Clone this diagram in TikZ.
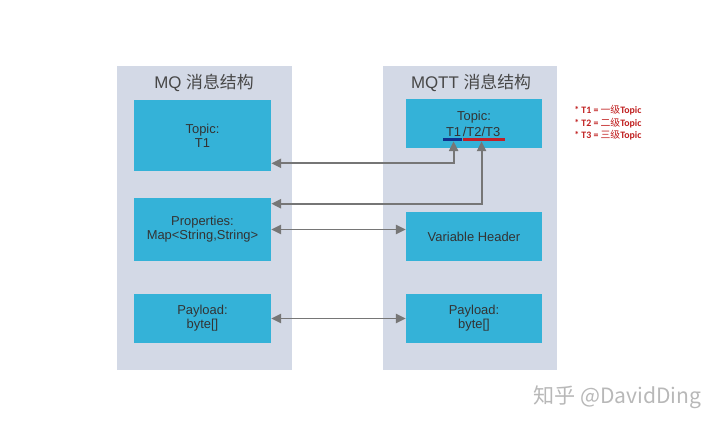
\documentclass[tikz,border=0pt]{standalone}
\usepackage{fontspec}
\setmainfont{Liberation Sans}
\newfontfamily\cjk{Noto Sans CJK SC}
\newfontfamily\notefont{Carlito}
\usepackage{tikz}
\usetikzlibrary{arrows.meta,positioning,calc}
\definecolor{panelbg}{RGB}{211,217,230}
\definecolor{boxfill}{RGB}{52,178,216}
\definecolor{txtdark}{RGB}{51,51,51}
\definecolor{arrgray}{RGB}{118,118,118}
\definecolor{notered}{RGB}{192,32,32}
\definecolor{ulblue}{RGB}{16,48,140}
\definecolor{ulred}{RGB}{192,32,40}

\begin{document}
\begin{tikzpicture}[x=0.025cm, y=-0.025cm, font=\fontsize{9.2}{9.8}\selectfont, text=txtdark, panel/.style={fill=panelbg, inner sep=0pt, minimum height=7.6cm}, box/.style={fill=boxfill, align=center, inner sep=0pt, minimum width=3.425cm, minimum height=1.225cm}, title/.style={font=\fontsize{12}{14}\selectfont, text=txtdark!90}, arr/.style={{Triangle[length=7pt,width=6.5pt]}-{Triangle[length=7pt,width=6.5pt]}, line width=1.4pt, draw=arrgray}]
\useasboundingbox (0,0) rectangle (720,429);
% the two columns
\node[panel, minimum width=4.375cm] (mqpanel) at (204.5,218) {};
\node[panel, minimum width=4.35cm] (mqttpanel) at (470,218) {};
\node[title] (mqtitle) at (204,83) {MQ {\cjk 消息结构}};
\node[title] (mqtttitle) at (471,83) {MQTT {\cjk 消息结构}};
% MQ side
\node[box, minimum height=1.775cm] (ltopic) at (202.5,135.5) {Topic:\\T1};
\node[box, minimum height=1.575cm] (lprop) at (202.5,229.5) {Properties:\\Map<String,String>};
\node[box] (lpay) at (202.5,318.5) {Payload:\\byte[]};
% MQTT side
\node[box, minimum width=3.4cm] (rtopic) at (474,123.5) {};
\node[inner sep=0pt] (rtopichd) at (474,117) {Topic:};
\node[inner xsep=0.4pt, inner ysep=0pt, anchor=base east] (tone) at (462,136) {T1};
\node[inner xsep=0.4pt, inner ysep=0pt, anchor=base west] (ttwo) at (tone.base east) {/T2/T3};
\draw[ulblue, line width=2pt] ([xshift=-1.5pt, yshift=-2.3pt]tone.base west) -- ([yshift=-2.3pt]tone.base east);
\draw[ulred, line width=2pt] ([xshift=1pt, yshift=-2.3pt]ttwo.base west) -- ([xshift=2.5pt, yshift=-2.3pt]ttwo.base east);
\node[box, minimum width=3.4cm] (rvar) at (474,236.5) {Variable Header};
\node[box, minimum width=3.4cm] (rpay) at (474,318.5) {Payload:\\byte[]};
% links
\draw[arr] ([yshift=-3.8pt]tone.base) |- ([yshift=0.2cm]ltopic.south east);
\draw[arr] ([yshift=-3.8pt]ttwo.base) |- ([yshift=-0.15cm]lprop.north east);
\draw[arr] (lprop.east) -- (lprop.east -| rvar.west);
\draw[arr] (lpay.east) -- (rpay.west);
% notes
\node[anchor=north west, align=left, inner sep=0pt, text=notered, font=\notefont\bfseries\fontsize{7}{8.9}\selectfont] (notes) at (574,105) {* T1 = {\cjk\mdseries 一级}Topic\\* T2 = {\cjk\mdseries 二级}Topic\\* T3 = {\cjk\mdseries 三级}Topic};
\node[anchor=west, inner sep=0pt, text=black!28, font=\cjk\fontsize{15}{18}\selectfont] (mark) at (533,397) {知乎 @DavidDing};
\end{tikzpicture}
\end{document}
